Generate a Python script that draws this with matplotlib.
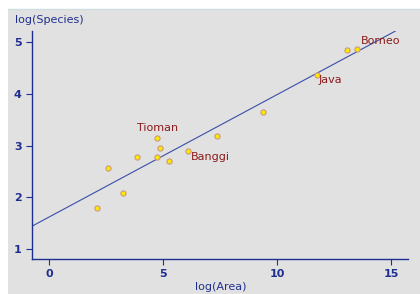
import matplotlib
matplotlib.use("Agg")
import matplotlib.pyplot as plt
from matplotlib.patches import Rectangle

log_area = [2.09, 3.23, 2.59, 3.85, 4.75, 4.88, 4.74, 5.28, 6.11, 7.38, 9.40, 11.77, 13.07, 13.52]
log_species = [1.79, 2.08, 2.56, 2.77, 3.14, 2.95, 2.78, 2.71, 2.89, 3.18, 3.65, 4.36, 4.85, 4.87]
fit_x = [-0.75, 15.19]
fit_y = [1.44, 5.21]
labels = ["Tioman", "Banggi", "Java", "Borneo"]
label_x = [3.85, 6.23, 11.84, 13.68]
label_y = [3.34, 2.78, 4.27, 5.02]
xticks = [0, 5, 10, 15]
yticks = [1, 2, 3, 4, 5]

blue = "#1f2f8f"
red = "#8b1a1a"

fig = plt.figure(figsize=(4.2, 2.94), dpi=100)
fig.patch.set_facecolor("white")
bg = Rectangle((8/420, 0), 1 - 8/420, 1 - 9/294, transform=fig.transFigure,
               facecolor="#e1e1e1", edgecolor="none", zorder=-10)
fig.add_artist(bg)
fig.add_artist(plt.Line2D([8/420, 1], [1 - 9/294, 1 - 9/294], transform=fig.transFigure,
                          color="#cfdde0", lw=1, zorder=-9))

ax = fig.add_axes([32/420, 35/294, 376/420, 228/294])
ax.set_zorder(5)
ax.set_facecolor("none")
ax.set_xlim(-0.746, 15.75)
ax.set_ylim(0.807, 5.213)

ax.plot(fit_x, fit_y, color="#3a4ea8", lw=0.8, zorder=2)
ax.scatter(log_area, log_species, s=14, facecolor="#ffe800", edgecolor="#c89a80", linewidth=0.8, zorder=3)

for t, x, y in zip(labels, label_x, label_y):
    ax.text(x, y, t, color=red, fontsize=8, ha="left", va="center")

for s in ["top", "right"]:
    ax.spines[s].set_visible(False)
for s in ["left", "bottom"]:
    ax.spines[s].set_color(blue)
    ax.spines[s].set_linewidth(1.0)

ax.set_xticks(xticks)
ax.set_yticks(yticks)
ax.tick_params(colors=blue, length=4, width=0.8, labelsize=8, direction="out")
for lab in ax.get_xticklabels() + ax.get_yticklabels():
    lab.set_fontweight("bold")

fig.text(15/420, 1 - 20/294, "log(Species)", color=blue, fontsize=8, ha="left", va="center", zorder=6)
fig.text(221/420, 1 - 287/294, "log(Area)", color=blue, fontsize=8, ha="center", va="center", zorder=6)

fig.savefig("out.png", dpi=100)
